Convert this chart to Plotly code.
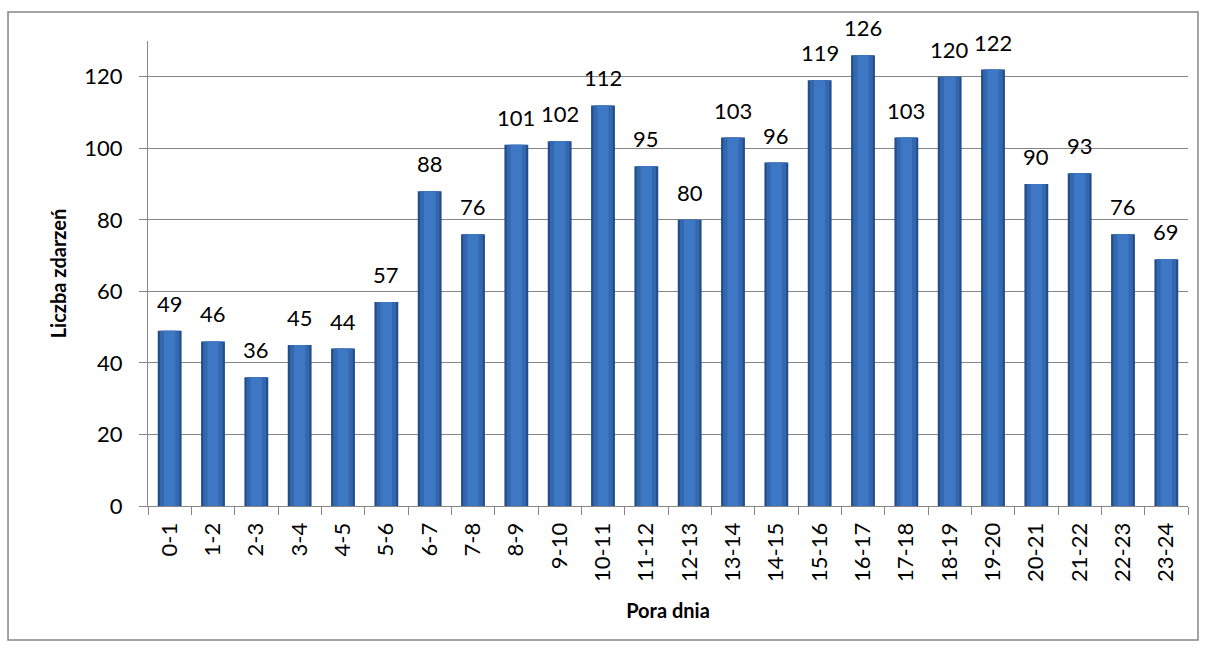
import plotly.graph_objects as go

categories = ["0-1", "1-2", "2-3", "3-4", "4-5", "5-6", "6-7", "7-8", "8-9", "9-10",
              "10-11", "11-12", "12-13", "13-14", "14-15", "15-16", "16-17", "17-18",
              "18-19", "19-20", "20-21", "21-22", "22-23", "23-24"]
values = [49, 46, 36, 45, 44, 57, 88, 76, 101, 102, 112, 95, 80, 103, 96, 119, 126,
          103, 120, 122, 90, 93, 76, 69]

FONT = "Lato"
TICK_SIZE = 22

fig = go.Figure()
fig.add_trace(go.Bar(
    x=categories, y=values, width=0.55,
    marker=dict(color="#234C8A", line=dict(width=0)),
    hoverinfo="x+y", showlegend=False,
))
fig.add_trace(go.Bar(
    x=categories, y=values, width=0.45,
    marker=dict(color="#3367AE", line=dict(width=0)),
    hoverinfo="skip", showlegend=False,
))
fig.add_trace(go.Bar(
    x=categories, y=values, width=0.26,
    marker=dict(color="#3E78C5", line=dict(width=0)),
    hoverinfo="skip", showlegend=False,
))

annotations = [
    dict(x=c, y=v, xref="x", yref="y", text=str(v), showarrow=False,
         yanchor="bottom", yshift=12,
         font=dict(size=TICK_SIZE, color="#000000", family=FONT))
    for c, v in zip(categories, values)
]

fig.update_layout(
    width=1208, height=653,
    margin=dict(l=148, r=20, t=41, b=147),
    paper_bgcolor="white", plot_bgcolor="white",
    barmode="overlay",
    font=dict(family=FONT, color="#000000"),
    annotations=annotations,
    xaxis=dict(
        type="category", tickson="boundaries", ticks="outside", ticklen=8,
        tickcolor="#868686", showline=True, linecolor="#868686", linewidth=1,
        showgrid=False, tickangle=-90, tickfont=dict(size=TICK_SIZE, family=FONT),
        ticklabelstandoff=7,
        title=dict(text="<b>Pora dnia</b>", font=dict(size=20, family=FONT), standoff=22),
        range=[-0.5, 23.5],
    ),
    yaxis=dict(
        range=[0, 130], dtick=20, tick0=0, ticks="outside", ticklen=8,
        tickcolor="#868686", showline=True, linecolor="#868686", linewidth=1,
        showgrid=True, gridcolor="#868686", gridwidth=1, zeroline=False,
        tickfont=dict(size=TICK_SIZE, family=FONT), ticklabelstandoff=12,
        title=dict(text="<b>Liczba zdarzeń</b>", font=dict(size=20, family=FONT), standoff=12),
    ),
    shapes=[dict(type="rect", xref="paper", yref="paper",
                 x0=-0.1346, x1=1.0096, y0=-0.288, y1=1.0624,
                 line=dict(color="#868686", width=1.5), fillcolor="rgba(0,0,0,0)",
                 layer="below")],
)

fig.write_html("out.html")
